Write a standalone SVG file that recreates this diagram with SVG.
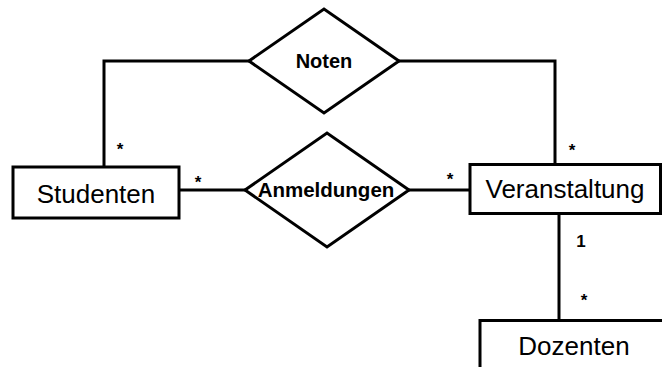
<svg xmlns="http://www.w3.org/2000/svg" width="662" height="367" viewBox="0 0 662 367">
  <style>
    .shape { fill: #ffffff; stroke: #000000; stroke-width: 3; }
    .wire { fill: none; stroke: #000000; stroke-width: 3; }
    .entity { font-family: "Liberation Sans", Arial, sans-serif; font-size: 26px; fill: #000000; text-anchor: middle; }
    .relation { font-family: "Liberation Sans", Arial, sans-serif; font-weight: bold; fill: #000000; text-anchor: middle; }
    .mult { font-family: "Liberation Sans", Arial, sans-serif; font-weight: bold; font-size: 17px; fill: #000000; text-anchor: middle; }
  </style>
  <rect width="662" height="367" fill="#ffffff"/>

  <!-- connectors -->
  <g id="connectors">
    <polyline class="wire" points="249,61 104,61 104,167"/>
    <polyline class="wire" points="399,61 555,61 555,164"/>
    <line class="wire" x1="179" y1="190" x2="245" y2="190"/>
    <line class="wire" x1="409" y1="190" x2="470" y2="190"/>
    <line class="wire" x1="559" y1="214" x2="559" y2="320"/>
  </g>

  <!-- multiplicities -->
  <g id="multiplicities">
    <text class="mult" x="120" y="155">*</text>
    <text class="mult" x="198" y="188">*</text>
    <text class="mult" x="450" y="185">*</text>
    <text class="mult" x="572" y="156">*</text>
    <text class="mult" x="581" y="247">1</text>
    <text class="mult" x="584" y="306">*</text>
  </g>

  <g id="noten">
    <polygon class="shape" points="249,61 324,9 399,61 324,113"/>
    <text class="relation" x="324" y="68" font-size="20">Noten</text>
  </g>

  <g id="anmeldungen">
    <polygon class="shape" points="245,190 327,133 409,190 327,247"/>
    <text class="relation" x="326" y="197" font-size="20.5">Anmeldungen</text>
  </g>

  <g id="studenten">
    <rect class="shape" x="13" y="167" width="166" height="51"/>
    <text class="entity" x="96" y="203">Studenten</text>
  </g>

  <g id="veranstaltung">
    <rect class="shape" x="470" y="164.5" width="190.5" height="49"/>
    <text class="entity" x="565" y="198">Veranstaltung</text>
  </g>

  <g id="dozenten">
    <rect class="shape" x="480" y="320.5" width="188" height="60"/>
    <text class="entity" x="574" y="355">Dozenten</text>
  </g>
</svg>
